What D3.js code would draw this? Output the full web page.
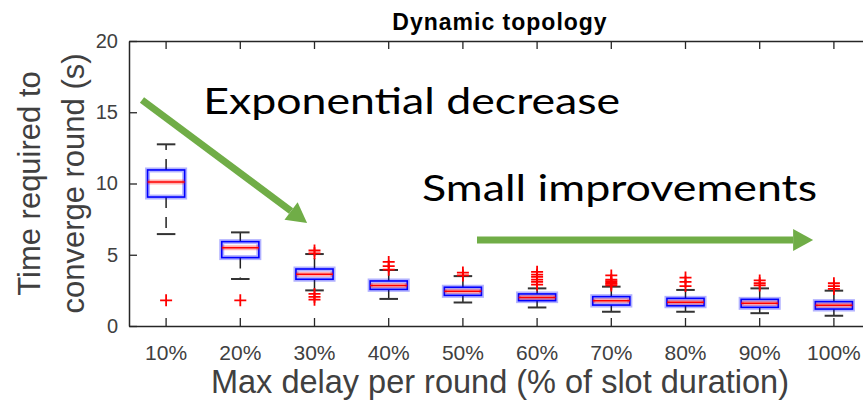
<!DOCTYPE html>
<html>
<head>
<meta charset="utf-8">
<script src="https://cdn.jsdelivr.net/npm/d3@7"></script>
<style>
  body { margin: 0; background: #fff; }
  svg { display: block; }
</style>
</head>
<body>
<svg id="chart" width="863" height="407"></svg>
<script>
// values
const categories = ["10%", "20%", "30%", "40%", "50%", "60%", "70%", "80%", "90%", "100%"];
const whiskerLow  = [6.45, 3.3, 2.5, 1.9, 1.65, 1.3, 1.0, 1.0, 0.9, 0.72];
const q1          = [9.05, 4.8, 3.28, 2.57, 2.15, 1.78, 1.47, 1.42, 1.31, 1.19];
const median      = [10.1, 5.5, 3.63, 2.85, 2.43, 2.0, 1.78, 1.66, 1.59, 1.45];
const q3          = [10.95, 5.92, 4.0, 3.16, 2.72, 2.25, 2.06, 1.94, 1.87, 1.71];
const whiskerHigh = [12.75, 6.57, 5.05, 3.93, 3.5, 2.64, 2.76, 2.53, 2.64, 2.48];
const outliers = [
  [1.8],
  [1.8],
  [5.3, 5.1, 2.25, 2.05, 1.85],
  [4.5, 4.2, 3.95],
  [3.75, 3.55],
  [3.8, 3.6, 3.45, 3.25, 3.1, 2.9],
  [3.55, 3.25, 3.15, 3.05, 2.95, 2.85],
  [3.4, 3.1, 2.8],
  [3.2, 3.0, 2.85],
  [3.0, 2.8, 2.6]
];
const yTicks = [0, 5, 10, 15, 20];

const boxes = categories.map((c, i) => ({
  cat: c, lo: whiskerLow[i], q1: q1[i], med: median[i], q3: q3[i], hi: whiskerHigh[i], out: outliers[i]
}));

const svg = d3.select("#chart");
const mLeft = 129, mRight = 871, mTop = 41, mBottom = 326;
const axisColor = "#262626", textColor = "#404040";
const green = "#70ad47";
const font = "Liberation Sans, Arial, sans-serif";

const x = d3.scaleBand().domain(categories).range([mLeft, mRight]);
// continuous version of the same axis, for the annotations
const xc = d3.scaleLinear().domain([0.5, 10.5]).range([mLeft, mRight]);
const y = d3.scaleLinear().domain([0, 20]).range([mBottom, mTop]);
const bw = x.bandwidth() * 0.5;
const cx = d => x(d) + x.bandwidth() / 2;

// title
svg.append("text")
  .attr("x", (mLeft + mRight) / 2).attr("y", 30)
  .attr("text-anchor", "middle")
  .attr("font-family", font)
  .attr("font-weight", "bold").attr("font-size", 23)
  .attr("letter-spacing", 1)
  .attr("fill", "#000")
  .text("Dynamic topology");

// axes
const xAxis = svg.append("g").attr("transform", `translate(0,${mBottom})`)
  .call(d3.axisBottom(x).tickSizeInner(-8).tickSizeOuter(0).tickPadding(19));
const xTop = svg.append("g").attr("transform", `translate(0,${mTop})`)
  .call(d3.axisTop(x).tickSizeInner(-8).tickSizeOuter(0).tickFormat(""));
const yAxis = svg.append("g").attr("transform", `translate(${mLeft},0)`)
  .call(d3.axisLeft(y).tickValues(yTicks).tickSizeInner(-8).tickSizeOuter(0).tickPadding(11));
const yRight = svg.append("g").attr("transform", `translate(${mRight},0)`)
  .call(d3.axisRight(y).tickValues(yTicks).tickSizeInner(-8).tickSizeOuter(0).tickFormat(""));

[xAxis, xTop, yAxis, yRight].forEach(g => {
  g.select(".domain").attr("stroke", axisColor).attr("stroke-width", 1.5);
  g.selectAll(".tick line").attr("stroke", axisColor).attr("stroke-width", 1.3);
  g.selectAll("text").attr("fill", textColor).attr("font-family", font);
});
xAxis.selectAll("text").attr("font-size", 21);
yAxis.selectAll("text").attr("font-size", 20);

// axis labels
svg.append("text")
  .attr("x", (mLeft + mRight) / 2).attr("y", 393)
  .attr("text-anchor", "middle")
  .attr("font-family", font)
  .attr("font-size", 32.5).attr("fill", textColor)
  .text("Max delay per round (% of slot duration)");

const yl = svg.append("text")
  .attr("transform", `translate(0,${(mTop + mBottom) / 2}) rotate(-90)`)
  .attr("text-anchor", "middle")
  .attr("font-family", font)
  .attr("font-size", 31).attr("fill", textColor);
yl.append("tspan").attr("x", 0).attr("y", 40).text("Time required to");
yl.append("tspan").attr("x", 0).attr("y", 84).text("converge round (s)");

// box plots
const g = svg.append("g");
const bx = g.selectAll("g.box").data(boxes).join("g").attr("class", "box");

// whiskers (dashed, as in MATLAB)
bx.append("line")
  .attr("x1", d => cx(d.cat)).attr("x2", d => cx(d.cat))
  .attr("y1", d => y(d.q3)).attr("y2", d => y(d.hi))
  .attr("stroke", "#222").attr("stroke-width", 1.5).attr("stroke-dasharray", "11,9");
bx.append("line")
  .attr("x1", d => cx(d.cat)).attr("x2", d => cx(d.cat))
  .attr("y1", d => y(d.q1)).attr("y2", d => y(d.lo))
  .attr("stroke", "#222").attr("stroke-width", 1.5).attr("stroke-dasharray", "11,9");
// caps
["hi", "lo"].forEach(k => {
  bx.append("line")
    .attr("x1", d => cx(d.cat) - bw / 4).attr("x2", d => cx(d.cat) + bw / 4)
    .attr("y1", d => y(d[k])).attr("y2", d => y(d[k]))
    .attr("stroke", "#333").attr("stroke-width", 2);
});

// box with soft halo
bx.append("rect")
  .attr("x", d => cx(d.cat) - bw / 2).attr("width", bw)
  .attr("y", d => y(d.q3)).attr("height", d => y(d.q1) - y(d.q3))
  .attr("fill", "#fff").attr("stroke", "#0000ff").attr("stroke-opacity", 0.3).attr("stroke-width", 5);
bx.append("rect")
  .attr("x", d => cx(d.cat) - bw / 2).attr("width", bw)
  .attr("y", d => y(d.q3)).attr("height", d => y(d.q1) - y(d.q3))
  .attr("fill", "none").attr("stroke", "#0000ff").attr("stroke-width", 1.6);

// median
bx.append("line")
  .attr("x1", d => cx(d.cat) - bw / 2).attr("x2", d => cx(d.cat) + bw / 2)
  .attr("y1", d => y(d.med)).attr("y2", d => y(d.med))
  .attr("stroke", "#ff0000").attr("stroke-opacity", 0.3).attr("stroke-width", 5);
bx.append("line")
  .attr("x1", d => cx(d.cat) - bw / 2).attr("x2", d => cx(d.cat) + bw / 2)
  .attr("y1", d => y(d.med)).attr("y2", d => y(d.med))
  .attr("stroke", "#ff0000").attr("stroke-width", 1.5);

// outliers as red plus signs
const ms = 6;
bx.selectAll("path.out")
  .data(d => d.out.map(v => ({ cat: d.cat, v })))
  .join("path").attr("class", "out")
  .attr("d", d => {
    const px = cx(d.cat), py = y(d.v);
    return `M${px - ms},${py}H${px + ms}M${px},${py - ms}V${py + ms}`;
  })
  .attr("stroke", "#ff0000").attr("stroke-width", 1.8).attr("fill", "none");

// annotations
const annFont = "Lato, 'Open Sans', sans-serif";
svg.append("text")
  .attr("x", xc(1.5)).attr("y", y(14.9))
  .attr("font-family", annFont).attr("font-size", 37).attr("fill", "#000")
  .attr("textLength", 417).attr("lengthAdjust", "spacingAndGlyphs")
  .text("Exponential decrease");
svg.append("text")
  .attr("x", xc(4.45)).attr("y", y(8.75))
  .attr("font-family", annFont).attr("font-size", 37).attr("fill", "#000")
  .attr("textLength", 395).attr("lengthAdjust", "spacingAndGlyphs")
  .text("Small improvements");

function arrow(x0, y0, x1, y1) {
  const p0 = [xc(x0), y(y0)], p1 = [xc(x1), y(y1)];
  const ang = Math.atan2(p1[1] - p0[1], p1[0] - p0[0]);
  const hl = 20, hw = 11;
  const bxp = p1[0] - hl * Math.cos(ang), byp = p1[1] - hl * Math.sin(ang);
  svg.append("line")
    .attr("x1", p0[0]).attr("y1", p0[1]).attr("x2", bxp).attr("y2", byp)
    .attr("stroke", green).attr("stroke-width", 7);
  svg.append("path")
    .attr("d", `M${p1[0]},${p1[1]}L${bxp - hw * Math.sin(ang)},${byp + hw * Math.cos(ang)}L${bxp + hw * Math.sin(ang)},${byp - hw * Math.cos(ang)}Z`)
    .attr("fill", green);
}
arrow(0.675, 15.86, 2.9, 7.23);
arrow(5.19, 6.04, 9.72, 6.04);
</script>
</body>
</html>
